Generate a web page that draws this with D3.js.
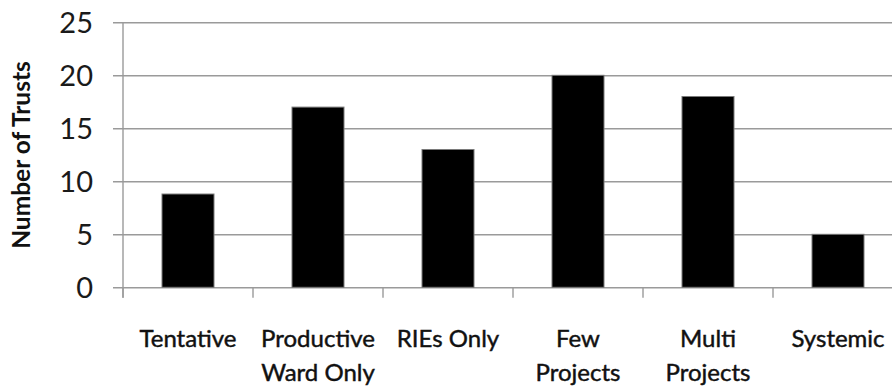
<!DOCTYPE html>
<html>
<head>
<meta charset="utf-8">
<script src="https://cdn.jsdelivr.net/npm/d3@7"></script>
<style>
  html, body { margin: 0; padding: 0; background: #fff; overflow: hidden; }
  svg { display: block; }
</style>
</head>
<body>
<svg id="chart" width="892" height="387"></svg>
<script>
// Trust counts by improvement category
const categories = ["Tentative", "Productive Ward Only", "RIEs Only", "Few Projects", "Multi Projects", "Systemic"];
const categoryLines = [["Tentative"], ["Productive", "Ward Only"], ["RIEs Only"], ["Few", "Projects"], ["Multi", "Projects"], ["Systemic"]];
const trusts = [8.8, 17, 13, 20, 18, 5];
const yTicks = [0, 5, 10, 15, 20, 25];
const yTitle = "Number of Trusts";

const svg = d3.select("#chart");
const font = "Lato, 'Open Sans', sans-serif";

const plotLeft = 123, plotRight = 903, plotTop = 22.3, plotBottom = 287.3;

const x = d3.scaleBand().domain(categories).range([plotLeft, plotRight])
  .paddingInner(0.6).paddingOuter(0.3);
const y = d3.scaleLinear().domain([0, 25]).range([plotBottom, plotTop]);

const gridColor = "#9a9a9a";

// horizontal gridlines with short left ticks
const yAxis = d3.axisLeft(y).tickValues(yTicks).tickSize(10).tickPadding(20).tickFormat(d3.format("d"));
const gy = svg.append("g").attr("transform", `translate(${plotLeft},0)`).call(yAxis);
gy.select(".domain").remove();
gy.selectAll(".tick line").attr("stroke", gridColor).attr("stroke-width", 1.4)
  .attr("x1", -10).attr("x2", 892 - plotLeft);
gy.selectAll(".tick text")
  .attr("font-family", font).attr("font-size", 29).attr("fill", "#1a1a1a")
  .attr("dy", "0.36em");

// vertical axis line
svg.append("line").attr("x1", plotLeft).attr("x2", plotLeft).attr("y1", y(25)).attr("y2", plotBottom + 10.5)
  .attr("stroke", gridColor).attr("stroke-width", 1.4);

// category boundary ticks below baseline
const half = (x.step() - x.bandwidth()) / 2;
const bounds = categories.map(c => x(c) - half).concat([x(categories[categories.length - 1]) + x.bandwidth() + half]);
svg.append("g").selectAll("line").data(bounds).join("line")
  .attr("x1", d => d).attr("x2", d => d)
  .attr("y1", plotBottom).attr("y2", plotBottom + 10.5)
  .attr("stroke", gridColor).attr("stroke-width", 1.4);

// bars
svg.append("g").selectAll("rect").data(categories).join("rect")
  .attr("x", d => x(d)).attr("width", x.bandwidth())
  .attr("y", (d, i) => y(trusts[i])).attr("height", (d, i) => y(0) - y(trusts[i]))
  .attr("fill", "#000").attr("stroke", "#7a7a7a").attr("stroke-width", 1);

// category labels
const lab = svg.append("g").attr("font-family", font).attr("font-size", 24).attr("fill", "#111")
  .attr("stroke", "#111").attr("stroke-width", 0.45)
  .attr("text-anchor", "middle");
categories.forEach((c, i) => {
  const cx = x(c) + x.bandwidth() / 2;
  categoryLines[i].forEach((line, j) => {
    lab.append("text").attr("x", cx).attr("y", 346.5 + j * 34).text(line);
  });
});

// y-axis title
svg.append("text")
  .attr("transform", `translate(30,155) rotate(-90)`)
  .attr("text-anchor", "middle")
  .attr("font-family", font).attr("font-weight", "bold").attr("font-size", 24.5).attr("fill", "#111")
  .text(yTitle);
</script>
</body>
</html>
